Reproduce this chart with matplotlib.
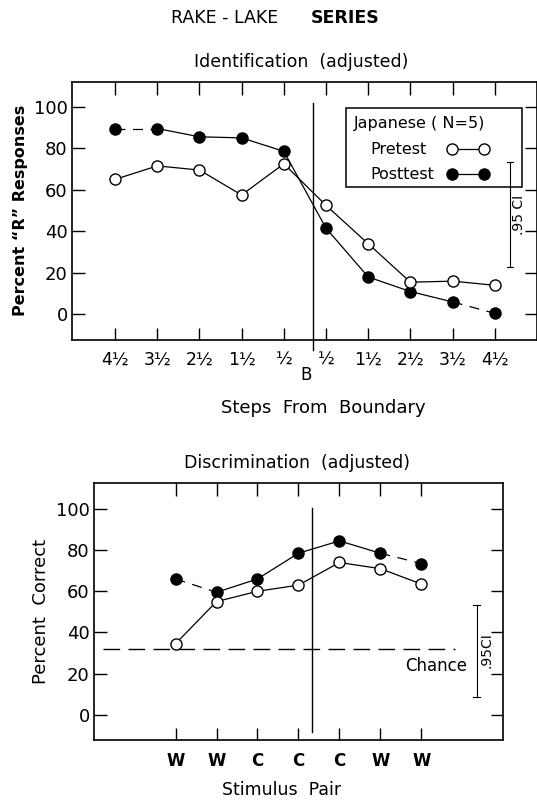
import numpy as np
import matplotlib
matplotlib.use('Agg')
import matplotlib.pyplot as plt
from matplotlib.patches import Rectangle

plt.rcParams['font.family'] = ['DejaVu Sans']

# identification (adjusted), steps from boundary
id_labels = ['4½', '3½', '2½', '1½', '½', '½', '1½', '2½', '3½', '4½']
id_pre    = [65, 71.5, 69.5, 57.5, 72.5, 52.5, 34, 15.5, 16, 14]
id_post   = [89.5, 89.5, 85.5, 85, 78.5, 41.5, 18, 11, 6, 0.5]

# discrimination (adjusted), stimulus pair
disc_labels = ['W', 'W', 'C', 'C', 'C', 'W', 'W']
disc_pre    = [34.5, 55, 60, 63, 74, 71, 63.5]
disc_post   = [66, 59.5, 66, 78.5, 84.5, 78.5, 73.5]

chance = 32
W, H = 537, 802

def fx(px):
	return px / W

def fy(py):
	return 1 - py / H

def frame(ax):
	for s in ax.spines.values():
		s.set_linewidth(1.2)
	ax.tick_params(direction='in', length=9, width=1.0, top=True, right=True,
		       labelsize=13)

def series(ax, x, pre, post, dashed):
	x = np.asarray(x)
	post = np.asarray(post)
	# posttest line, dashed on the end segments
	for i in range(len(x) - 1):
		ls = (0, (8, 6)) if i in dashed else '-'
		ax.plot(x[i:i+2], post[i:i+2], color='black', lw=0.9, ls=ls, zorder=2)
	ax.plot(x, post, 'o', color='black', ms=8, zorder=3)
	ax.plot(x, pre, '-o', color='black', lw=0.9, ms=8, mfc='white', mec='black',
		mew=1.0, zorder=4)

def ci_bar(ax, x, y0, y1):
	ax.plot([x, x], [y0, y1], color='black', lw=0.8)
	for y in (y0, y1):
		ax.plot([x - 0.08, x + 0.08], [y, y], color='black', lw=0.8)

fig = plt.figure(figsize=(W / 100, H / 100), dpi=100)

fig.text(fx(225), fy(18), 'RAKE - LAKE', ha='center', va='center', fontsize=12.5)
fig.text(fx(345), fy(18), 'SERIES', ha='center', va='center', fontsize=12.5,
	 fontweight='bold')
fig.text(fx(301), fy(62), 'Identification  (adjusted)', ha='center', va='center',
	 fontsize=12.5)

# top panel
ax1 = fig.add_axes([fx(72), fy(339.5), fx(537) - fx(72), fy(82) - fy(339.5)])
frame(ax1)
xi = np.arange(len(id_labels))
series(ax1, xi, id_pre, id_post, dashed=[0, 8])
ax1.plot([4.7, 4.7], [102, -17], color='black', lw=1.0, clip_on=False)
ax1.set_xlim(-1.02, 10.0)
ax1.set_ylim(-12.1, 111.9)
ax1.set_xticks(xi)
ax1.set_xticklabels(id_labels, fontsize=12.5)
ax1.set_yticks([0, 20, 40, 60, 80, 100])
ax1.tick_params(axis='x', pad=8)
ax1.tick_params(axis='y', pad=3)
ax1.text(4.53, -29, 'B', ha='center', va='center', fontsize=12)
ax1.set_ylabel('Percent \u201cR\u201d Responses', fontsize=11.5, fontweight='bold',
	       labelpad=4)
fig.text(fx(323), fy(408), 'Steps  From  Boundary', ha='center', va='center',
	 fontsize=13)

# legend box
ax1.add_patch(Rectangle((5.47, 61.2), 9.64 - 5.47, 99.5 - 61.2, fill=False,
			lw=1.1, ec='black', zorder=5))
ax1.text(5.66, 91.7, 'Japanese ( N=5)', ha='left', va='center', fontsize=11.5)
ax1.text(6.04, 79.6, 'Pretest', ha='left', va='center', fontsize=11.5)
ax1.text(6.04, 67.4, 'Posttest', ha='left', va='center', fontsize=11.5)
ax1.plot([7.98, 8.74], [79.6, 79.6], '-o', color='black', lw=0.9, ms=8,
	 mfc='white', mec='black')
ax1.plot([7.98, 8.74], [67.4, 67.4], '-o', color='black', lw=0.9, ms=8)

ci_bar(ax1, 9.36, 22.9, 73.5)
ax1.text(9.57, 48, '.95 CI', rotation=90, ha='center', va='center', fontsize=10)

# bottom panel
fig.text(fx(297), fy(463), 'Discrimination  (adjusted)', ha='center', va='center',
	 fontsize=12.5)
ax2 = fig.add_axes([fx(94), fy(740), fx(503.3) - fx(94), fy(483.3) - fy(740)])
frame(ax2)
xd = np.arange(len(disc_labels))
ax2.plot([-1.77, 6.81], [chance, chance], color='black', lw=1.0,
	 ls=(0, (12, 6)), zorder=1)
series(ax2, xd, disc_pre, disc_post, dashed=[0, 5])
ax2.plot([3.33, 3.33], [100.3, -8.6], color='black', lw=1.0)
ax2.set_xlim(-1.99, 8.0)
ax2.set_ylim(-12.3, 112.5)
ax2.set_xticks(xd)
ax2.set_xticklabels(disc_labels, fontsize=12, fontweight='bold')
ax2.set_yticks([0, 20, 40, 60, 80, 100])
ax2.tick_params(axis='x', pad=9)
ax2.tick_params(axis='y', pad=3)
ax2.set_ylabel('Percent  Correct', fontsize=13, labelpad=4)
ax2.text(6.35, 23.9, 'Chance', ha='center', va='center', fontsize=12)
ci_bar(ax2, 7.35, 8.7, 53.3)
ax2.text(7.6, 31.5, '.95CI', rotation=90, ha='center', va='center', fontsize=10)
fig.text(fx(282), fy(790), 'Stimulus  Pair', ha='center', va='center',
	 fontsize=12.5)

fig.savefig('out.png', dpi=100)
